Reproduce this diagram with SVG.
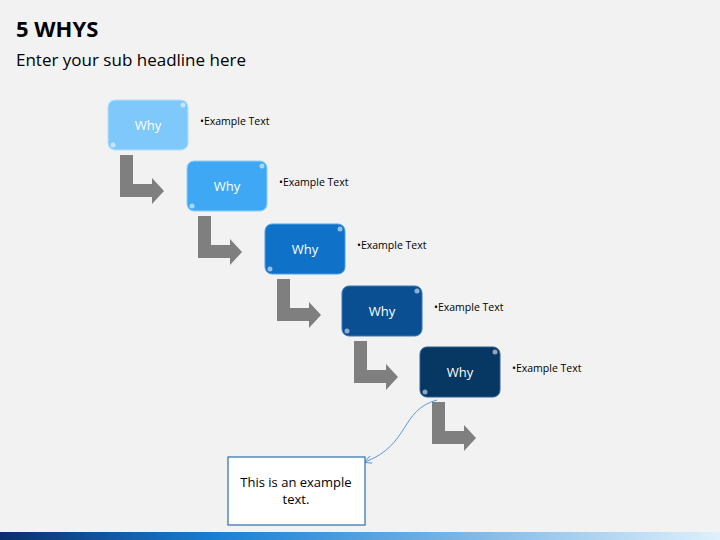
<svg xmlns="http://www.w3.org/2000/svg" width="720" height="540" viewBox="0 0 720 540">
<defs>
<style>
.t{font-family:"Open Sans","Liberation Sans",sans-serif}
.why{font-family:"Open Sans","Liberation Sans",sans-serif;font-size:13px;fill:#fff;text-anchor:middle}
.ex{font-family:"Open Sans","Liberation Sans",sans-serif;font-size:10.5px;fill:#000}
.dot{fill:#fff;opacity:0.55}
</style>
<path id="arr" d="M0,0 H13 V29 H32 V23 L44,36 L32,49 V42 H0 Z" fill="#7f7f7f"/>
<linearGradient id="bar" x1="0" x2="1"><stop offset="0" stop-color="#0a2e6e"/><stop offset="0.3" stop-color="#1a7fd4"/><stop offset="1" stop-color="#dff0fb"/></linearGradient>
<marker id="m" viewBox="0 0 10 10" refX="9" refY="5" markerWidth="8" markerHeight="8" orient="auto"><path d="M0,0 L10,5 L0,10" fill="none" stroke="#5b9bd5" stroke-width="1.2"/></marker>
</defs>
<rect width="720" height="540" fill="#f2f2f2"/>
<text x="16" y="37" class="t" font-size="22" font-weight="bold" fill="#000">5 WHYS</text>
<text x="16" y="66" class="t" font-size="17" fill="#000">Enter your sub headline here</text>
<rect x="0" y="532" width="720" height="8" fill="url(#bar)"/>
<g id="connectors">
<use href="#arr" x="120" y="155"/>
<use href="#arr" x="198" y="216"/>
<use href="#arr" x="277" y="279"/>
<use href="#arr" x="354" y="341"/>
<use href="#arr" x="432" y="402"/>
<path d="M437,400 C400,410 410,445 365,462" fill="none" stroke="#5b9bd5" stroke-width="1" marker-end="url(#m)"/>
</g>
<g id="n1"><rect x="108" y="100" width="80" height="50" rx="7" fill="#7ec8fb" stroke="#b7e1fd"/><circle class="dot" cx="183" cy="105" r="2.5"/><circle class="dot" cx="113" cy="145" r="2.5"/><text x="148" y="130" class="why">Why</text><text x="200" y="125" class="ex">•Example Text</text></g>
<g id="n2"><rect x="187" y="161" width="80" height="50" rx="7" fill="#3ea8f5" stroke="#8fd0fb"/><circle class="dot" cx="262" cy="166" r="2.5"/><circle class="dot" cx="192" cy="206" r="2.5"/><text x="227" y="191" class="why">Why</text><text x="279" y="186" class="ex">•Example Text</text></g>
<g id="n3"><rect x="265" y="224" width="80" height="50" rx="7" fill="#0f72c8" stroke="#4ea0e0"/><circle class="dot" cx="340" cy="229" r="2.5"/><circle class="dot" cx="270" cy="269" r="2.5"/><text x="305" y="254" class="why">Why</text><text x="357" y="249" class="ex">•Example Text</text></g>
<g id="n4"><rect x="342" y="286" width="80" height="50" rx="7" fill="#0b4f93" stroke="#3a79b8"/><circle class="dot" cx="417" cy="291" r="2.5"/><circle class="dot" cx="347" cy="331" r="2.5"/><text x="382" y="316" class="why">Why</text><text x="434" y="311" class="ex">•Example Text</text></g>
<g id="n5"><rect x="420" y="347" width="80" height="50" rx="7" fill="#073763" stroke="#2e5f8e"/><circle class="dot" cx="495" cy="352" r="2.5"/><circle class="dot" cx="425" cy="392" r="2.5"/><text x="460" y="377" class="why">Why</text><text x="512" y="372" class="ex">•Example Text</text></g>
<g id="note"><rect x="228" y="457" width="137" height="68" fill="#fff" stroke="#2e6ea6" stroke-width="1.2"/><text x="296" y="487" class="t" font-size="13" text-anchor="middle">This is an example</text><text x="296" y="504" class="t" font-size="13" text-anchor="middle">text.</text></g>
</svg>
